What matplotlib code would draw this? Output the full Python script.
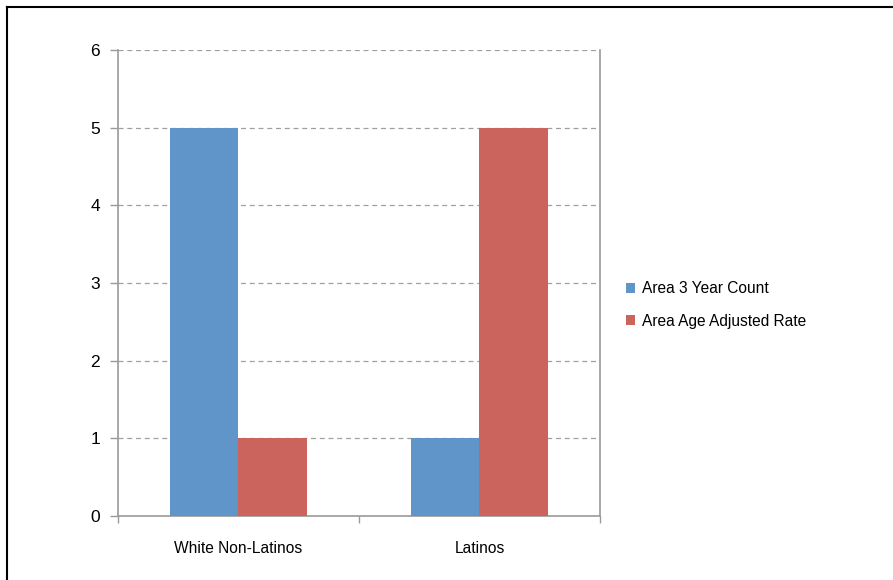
import numpy as np
import matplotlib.pyplot as plt
from matplotlib.lines import Line2D

plt.rcParams['font.family'] = ['Liberation Sans', 'DejaVu Sans']

# data
categories = ["White Non-Latinos", "Latinos"]
count_3yr = [5, 1]
age_adj_rate = [1, 5]
series_names = ["Area 3 Year Count", "Area Age Adjusted Rate"]

blue = "#5F95C9"
red = "#CC645E"

fig = plt.figure(figsize=(8.93, 5.80), dpi=100)
ax = fig.add_axes([118/893, 64/580, 482/893, 466/580])

x = np.arange(len(categories))
w = 0.286
ax.bar(x - w/2, count_3yr, w, color=blue, label=series_names[0], zorder=3)
ax.bar(x + w/2, age_adj_rate, w, color=red, label=series_names[1], zorder=3)

ax.set_xlim(-0.5, len(categories) - 0.5)
ax.set_ylim(0, 6)
ax.set_yticks(range(0, 7))
ax.yaxis.grid(True, linestyle=(0, (4, 3)), color="#A0A0A0", linewidth=0.9, zorder=0)

# category labels between boundary ticks
ax.set_xticks(x)
ax.set_xticklabels(categories)
ax.set_xticks(np.arange(-0.5, len(categories)), minor=True)
ax.tick_params(axis="x", which="major", length=0, pad=18, labelsize=11.2)
ax.tick_params(axis="x", which="minor", length=5, color="#9A9A9A", width=1)
ax.tick_params(axis="y", length=6, color="#9A9A9A", width=1, labelsize=12.5, pad=7)

for s in ["left", "bottom", "right"]:
    ax.spines[s].set_color("#9A9A9A")
    ax.spines[s].set_linewidth(1.2)
ax.spines["top"].set_visible(False)

ax.legend(loc="center left", bbox_to_anchor=(1.025, 0.453), frameon=False,
          fontsize=11.2, handlelength=0.6, handleheight=0.6, handletextpad=0.45,
          labelspacing=1.12)

# outer border (top and left only visible)
fig.add_artist(Line2D([7/893, 1], [1 - 7/580, 1 - 7/580], color="black", lw=1.5,
                      transform=fig.transFigure))
fig.add_artist(Line2D([7/893, 7/893], [0, 1 - 7/580], color="black", lw=1.5,
                      transform=fig.transFigure))

plt.savefig("out.png", dpi=100)
